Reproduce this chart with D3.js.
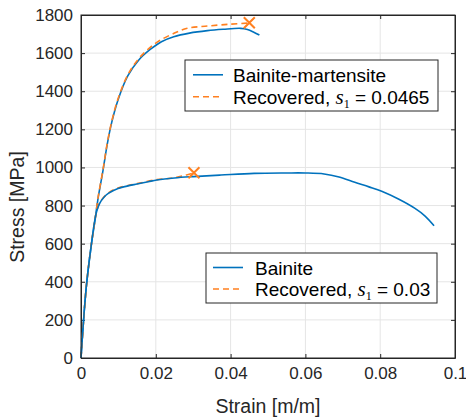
<!DOCTYPE html>
<html><head><meta charset="utf-8">
<script src="https://cdn.jsdelivr.net/npm/d3@7"></script>
<style>body{margin:0;background:#fff}svg{display:block}text{font-family:"Liberation Sans",Arial,sans-serif}</style>
</head><body>
<svg id="c" width="466" height="418"></svg>
<script>
const bmStrain = [0,0.0014,0.0028,0.0038,0.0045,0.0059,0.0070,0.0082,0.0099,0.0125,0.0154,0.0185,0.0215,0.0248,0.0290,0.0338,0.0380,0.0427,0.0445,0.0462,0.0477];
const bmStress = [0,370,600,730,830,986,1120,1235,1354,1480,1563,1619,1660,1686,1705,1718,1725,1730,1724,1710,1695];
const bmRecStrain = [0,0.0014,0.0028,0.0038,0.0045,0.0059,0.0070,0.0082,0.0099,0.0125,0.0154,0.0185,0.0212,0.0250,0.0284,0.0338,0.0400,0.0450];
const bmRecStress = [0,370,600,730,835,990,1125,1240,1360,1485,1570,1630,1668,1705,1730,1742,1752,1758];
const bStrain = [0,0.0014,0.0028,0.0038,0.0042,0.0050,0.0062,0.0073,0.0099,0.0123,0.0150,0.0180,0.0203,0.0250,0.0300,0.0374,0.0463,0.0550,0.0600,0.0650,0.0690,0.0732,0.0770,0.0804,0.0850,0.0893,0.0920,0.0944];
const bStress = [0,370,600,735,770,812,845,864,890,902,913,925,934,945,952,960,969,971,971,966,950,922,898,875,833,785,745,694];
const bRecStrain = [0,0.0014,0.0028,0.0038,0.0042,0.0050,0.0073,0.0099,0.0150,0.0203,0.0239,0.0270,0.0300];
const bRecStress = [0,370,600,735,770,815,866,892,915,936,943,955,970];
const markStrain = [0.0450,0.0302];
const markStress = [1759,972];
const xTicks = [0,0.02,0.04,0.06,0.08,0.1];
const xTickLabels = ["0","0.02","0.04","0.06","0.08","0.1"];
const yTicks = [0,200,400,600,800,1000,1200,1400,1600,1800];
const legend1 = ["Bainite-martensite","Recovered, ","0.0465"];
const legend2 = ["Bainite","Recovered, ","0.03"];

const blue = "#0072BD", orange = "#FF8020", axc = "#262626";
const svg = d3.select("#c");
const L=81,R=455,T=15,B=358;
const x = d3.scaleLinear().domain([0,0.1]).range([L,R]);
const y = d3.scaleLinear().domain([0,1800]).range([B,T]);

// grid
const g = svg.append("g");
g.selectAll(".gx").data(xTicks.slice(1,-1)).enter().append("line")
  .attr("x1",d=>x(d)).attr("x2",d=>x(d)).attr("y1",T).attr("y2",B).attr("stroke","#e5e5e5").attr("stroke-width",1);
g.selectAll(".gy").data(yTicks.slice(1,-1)).enter().append("line")
  .attr("y1",d=>y(d)).attr("y2",d=>y(d)).attr("x1",L).attr("x2",R).attr("stroke","#e5e5e5").attr("stroke-width",1);

// axes
const xa = svg.append("g").attr("transform",`translate(0,${B})`)
  .call(d3.axisBottom(x).tickValues(xTicks).tickFormat((d,i)=>xTickLabels[i]).tickSizeInner(-4).tickSizeOuter(0).tickPadding(9));
const xt = svg.append("g").attr("transform",`translate(0,${T})`)
  .call(d3.axisTop(x).tickValues(xTicks).tickFormat("").tickSizeInner(-4).tickSizeOuter(0));
const ya = svg.append("g").attr("transform",`translate(${L},0)`)
  .call(d3.axisLeft(y).tickValues(yTicks).tickFormat(d3.format("d")).tickSizeInner(-4).tickSizeOuter(0).tickPadding(8));
const yr = svg.append("g").attr("transform",`translate(${R},0)`)
  .call(d3.axisRight(y).tickValues(yTicks).tickFormat("").tickSizeInner(-4).tickSizeOuter(0));
[xa,xt,ya,yr].forEach(a=>{a.select(".domain").attr("stroke",axc);a.selectAll(".tick line").attr("stroke",axc);
  a.selectAll("text").attr("fill","#262626").style("font-size","17px").style("font-family","'Liberation Sans',Arial,sans-serif");});

// lines
const line = d3.line().x(d=>x(d[0])).y(d=>y(d[1])).curve(d3.curveCatmullRom.alpha(0.5));
const zip=(a,b)=>a.map((v,i)=>[v,b[i]]);
const lines = [
  [zip(bmStrain,bmStress),blue,null],
  [zip(bmRecStrain,bmRecStress),orange,"6,4"],
  [zip(bRecStrain,bRecStress),orange,"6,4"],
  [zip(bStrain,bStress),blue,null]
];
lines.forEach(([d,c,da])=>{
  const p=svg.append("path").datum(d).attr("d",line).attr("fill","none").attr("stroke",c).attr("stroke-width",1.6).attr("stroke-linejoin","round");
  if(da) p.attr("stroke-dasharray",da);
});
// markers
markStrain.forEach((s,i)=>{
  const cx=x(s), cy=y(markStress[i]), r=5.5;
  svg.append("path").attr("d",`M${cx-r},${cy-r}L${cx+r},${cy+r}M${cx-r},${cy+r}L${cx+r},${cy-r}`)
    .attr("stroke",orange).attr("stroke-width",2).attr("fill","none");
});

// box on top
svg.append("rect").attr("x",L).attr("y",T).attr("width",R-L).attr("height",B-T).attr("fill","none").attr("stroke",axc).attr("stroke-width",1);

// legends
function legend(bx,by,bw,bh,labels,sx,tx){
  svg.append("rect").attr("x",bx).attr("y",by).attr("width",bw).attr("height",bh).attr("fill","#fff").attr("stroke",axc).attr("stroke-width",1);
  const r1=by+bh*0.29, r2=by+bh*0.72;
  svg.append("line").attr("x1",sx).attr("x2",sx+30).attr("y1",r1).attr("y2",r1).attr("stroke",blue).attr("stroke-width",1.6);
  svg.append("line").attr("x1",sx).attr("x2",sx+30).attr("y1",r2).attr("y2",r2).attr("stroke",orange).attr("stroke-width",1.6).attr("stroke-dasharray","6,4");
  svg.append("text").attr("x",tx).attr("y",r1+7).style("font-size","19px").attr("fill","#000").text(labels[0]);
  const t=svg.append("text").attr("x",tx).attr("y",r2+7).style("font-size","19px").attr("fill","#000");
  t.append("tspan").text(labels[1]);
  t.append("tspan").style("font-family","'Liberation Serif','Times New Roman',serif").style("font-style","italic").style("font-size","21px").text("s");
  t.append("tspan").attr("dy",4).style("font-family","'Liberation Serif','Times New Roman',serif").style("font-size","12px").text("1");
  t.append("tspan").attr("dy",-4).text(" = "+labels[2]);
}
legend(185,60,253,51,legend1,193,233);
legend(206,253,231,50,legend2,213,255);

// axis labels
svg.append("text").attr("x",(L+R)/2).attr("y",413).attr("text-anchor","middle").style("font-size","19.5px").attr("fill","#262626").text("Strain [m/m]");
svg.append("text").attr("transform","translate(24,207) rotate(-90)").attr("text-anchor","middle").style("font-size","19.5px").attr("fill","#262626").text("Stress [MPa]");
</script>
</body></html>
